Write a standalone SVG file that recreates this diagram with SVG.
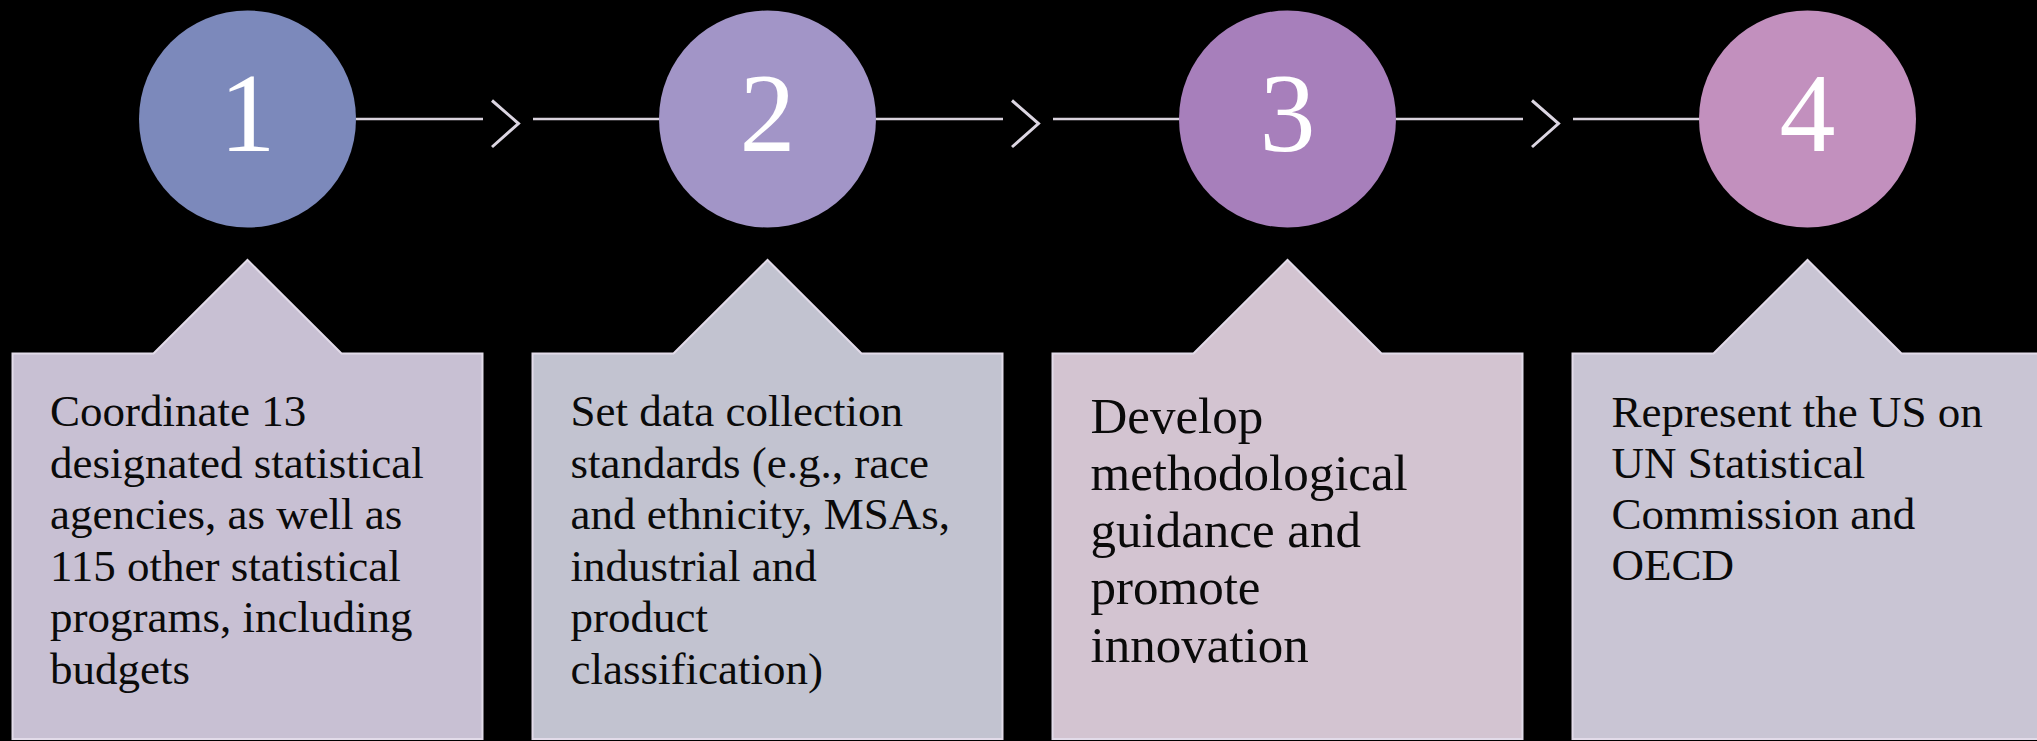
<svg xmlns="http://www.w3.org/2000/svg" width="2037" height="741" viewBox="0 0 2037 741">
<style>
.num{font-family:"Liberation Serif","DejaVu Serif",serif;font-size:112px;fill:#ffffff;text-anchor:middle}
.txt{font-family:"Liberation Serif","DejaVu Serif",serif;font-size:45px;fill:#0a0a0a}
.big{font-size:51px}
.box{stroke:#e2dbe9;stroke-width:2}
.ln{stroke:#d9d2dd;stroke-width:2.5;fill:none}
.chev{stroke:#dcd6e2;stroke-width:3;fill:none}
</style>
<rect width="2037" height="741" fill="#000"/>
<g id="connectors">
<line class="ln" x1="356" y1="119" x2="483" y2="119"/>
<polyline class="chev" points="492,100.5 518.5,123.5 492,147"/>
<line class="ln" x1="533" y1="119" x2="660" y2="119"/>
<line class="ln" x1="876" y1="119" x2="1003" y2="119"/>
<polyline class="chev" points="1012,100.5 1038.5,123.5 1012,147"/>
<line class="ln" x1="1053" y1="119" x2="1180" y2="119"/>
<line class="ln" x1="1396" y1="119" x2="1523" y2="119"/>
<polyline class="chev" points="1532,100.5 1558.5,123.5 1532,147"/>
<line class="ln" x1="1573" y1="119" x2="1700" y2="119"/>
</g>
<g id="step1">
<circle cx="247.5" cy="119" r="108.5" fill="#7c89bb"/>
<text class="num" x="247.5" y="151">1</text>
</g>
<g id="step2">
<circle cx="767.5" cy="119" r="108.5" fill="#a295c7"/>
<text class="num" x="767.5" y="151">2</text>
</g>
<g id="step3">
<circle cx="1287.5" cy="119" r="108.5" fill="#a77fbb"/>
<text class="num" x="1287.5" y="151">3</text>
</g>
<g id="step4">
<circle cx="1807.5" cy="119" r="108.5" fill="#c290be"/>
<text class="num" x="1807.5" y="151">4</text>
</g>
<g id="box1">
<polygon class="box" fill="#c8c0d3" points="12.5,353.5 153.5,353.5 247.5,260 341.5,353.5 482.5,353.5 482.5,739 12.5,739"/>
<text class="txt" x="50"><tspan x="50" y="426">Coordinate 13</tspan><tspan x="50" y="477.5">designated statistical</tspan><tspan x="50" y="529">agencies, as well as</tspan><tspan x="50" y="580.5">115 other statistical</tspan><tspan x="50" y="632">programs, including</tspan><tspan x="50" y="683.5">budgets</tspan></text>
</g>
<g id="box2">
<polygon class="box" fill="#c2c3d0" points="532.5,353.5 673.5,353.5 767.5,260 861.5,353.5 1002.5,353.5 1002.5,739 532.5,739"/>
<text class="txt" x="570.5"><tspan x="570.5" y="426">Set data collection</tspan><tspan x="570.5" y="477.5">standards (e.g., race</tspan><tspan x="570.5" y="529">and ethnicity, MSAs,</tspan><tspan x="570.5" y="580.5">industrial and</tspan><tspan x="570.5" y="632">product</tspan><tspan x="570.5" y="683.5">classification)</tspan></text>
</g>
<g id="box3">
<polygon class="box" fill="#d3c4d1" points="1052.5,353.5 1193.5,353.5 1287.5,260 1381.5,353.5 1522.5,353.5 1522.5,739 1052.5,739"/>
<text class="txt big" x="1090.5"><tspan x="1090.5" y="432.5">Develop</tspan><tspan x="1090.5" y="489.5">methodological</tspan><tspan x="1090.5" y="546.5">guidance and</tspan><tspan x="1090.5" y="604">promote</tspan><tspan x="1090.5" y="661.5">innovation</tspan></text>
</g>
<g id="box4">
<polygon class="box" fill="#c9c5d4" points="1572.5,353.5 1713.5,353.5 1807.5,260 1901.5,353.5 2042.5,353.5 2042.5,739 1572.5,739"/>
<text class="txt" x="1611.5"><tspan x="1611.5" y="426.5">Represent the US on</tspan><tspan x="1611.5" y="478">UN Statistical</tspan><tspan x="1611.5" y="529">Commission and</tspan><tspan x="1611.5" y="580">OECD</tspan></text>
</g>
</svg>
